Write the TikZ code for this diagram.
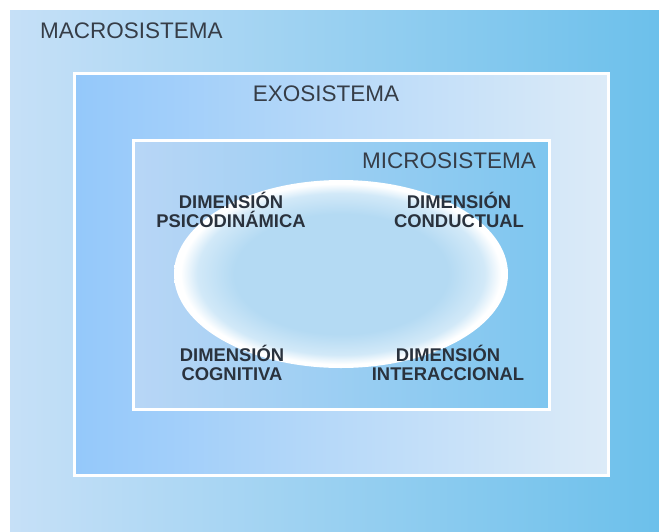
\documentclass[tikz,border=0pt]{standalone}
\usepackage{fontspec}
\setmainfont{Liberation Sans}
\usetikzlibrary{shadings}

\definecolor{macroL}{HTML}{C6E0F7}
\definecolor{macroR}{HTML}{6CC0EB}
\definecolor{exoL}{HTML}{94C8FA}
\definecolor{exoR}{HTML}{DCEBF8}
\definecolor{microL}{HTML}{B8D6F6}
\definecolor{microR}{HTML}{7EC6EF}
\definecolor{ovalin}{HTML}{B4DAF3}
\definecolor{ovalmid}{HTML}{D2E9F8}
\definecolor{txt}{HTML}{363D47}
\definecolor{dimtxt}{HTML}{2A323D}

\pgfdeclareradialshading{ovalglow}{\pgfpoint{0bp}{0bp}}{color(0bp)=(ovalin); color(16bp)=(ovalin); color(21.5bp)=(ovalmid); color(24bp)=(white); color(25bp)=(white); color(50bp)=(white)}

\begin{document}
\begin{tikzpicture}[x=1pt, y=-1pt,
	sys/.style={font=\fontsize{22.5}{24}\selectfont, text=txt, inner sep=0pt},
	dim/.style={font=\bfseries\fontsize{18.4}{19}\selectfont, text=dimtxt, align=center, inner sep=0pt},
	frame/.style={draw=white, line width=3pt}]
	\useasboundingbox (0,0) rectangle (659,531);
	% nested systems
	\shade[left color=macroL, right color=macroR] (10,10) rectangle (659,531);
	\shade[frame, left color=exoL, right color=exoR] (74,73) rectangle (608,475);
	\shade[frame, left color=microL, right color=microR] (133,140) rectangle (549,409);
	\shade[shading=ovalglow] (341,274) ellipse [x radius=167, y radius=94];
	% titles
	\node[sys, anchor=base west] (macro) at (40,38) {MACROSISTEMA};
	\node[sys, anchor=base] (exo) at (326,101) {EXOSISTEMA};
	\node[sys, anchor=base east] (micro) at (536,168) {MICROSISTEMA};
	% dimensions
	\node[dim] (psico) at (231,210) {DIMENSIÓN\\PSICODINÁMICA};
	\node[dim] (cond) at (459,210) {DIMENSIÓN\\CONDUCTUAL};
	\node[dim] (cogn) at (232,363) {DIMENSIÓN\\COGNITIVA};
	\node[dim] (inter) at (448,363) {DIMENSIÓN\\INTERACCIONAL};
\end{tikzpicture}
\end{document}
